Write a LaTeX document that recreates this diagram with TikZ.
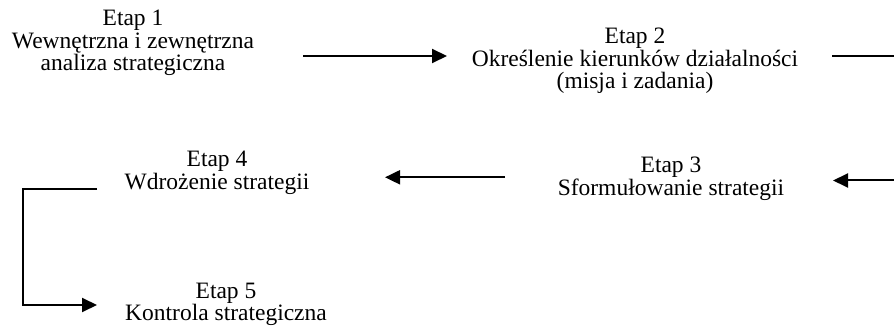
\documentclass[tikz,border=0pt]{standalone}
\usepackage{fontspec}
\setmainfont{Liberation Serif}
\usetikzlibrary{arrows.meta}
\begin{document}
\begin{tikzpicture}[x=1pt,y=-1pt,
  lbl/.style={align=center,font=\fontsize{23.5}{22.5}\selectfont,inner sep=0pt},
  conn/.style={line width=2pt},
  arr/.style={conn,-{Triangle[length=15pt,width=14pt]}}]
\useasboundingbox (0,0) rectangle (894,328);
\node[lbl] (e1) at (133,43) {Etap 1\\Wewnętrzna i zewnętrzna\\analiza strategiczna};
\node[lbl] (e2) at (635,61) {Etap 2\\Określenie kierunków działalności\\(misja i zadania)};
\node[lbl] (e3) at (671,179) {Etap 3\\Sformułowanie strategii};
\node[lbl] (e4) at (217,173) {Etap 4\\Wdrożenie strategii};
\node[lbl] (e5) at (226,304.5) {Etap 5\\Kontrola strategiczna};
\coordinate (a1s) at (303,56);
\coordinate (a1e) at (447,56);
\coordinate (r1s) at (832,56);
\coordinate (r1e) at (894,56);
\coordinate (r2s) at (894,180.5);
\coordinate (r2e) at (833,180.5);
\coordinate (a3s) at (505,177.3);
\coordinate (a3e) at (385,177.3);
\coordinate (l1s) at (97,189.3);
\coordinate (l1c) at (23.3,189.3);
\coordinate (l1d) at (23.3,305);
\coordinate (l1e) at (97,305);
\draw[arr] (a1s) -- (a1e);
\draw[conn] (r1s) -- (r1e);
\draw[arr] (r2s) -- (r2e);
\draw[arr] (a3s) -- (a3e);
\draw[arr] (l1s) -- (l1c) -- (l1d) -- (l1e);
\end{tikzpicture}
\end{document}
